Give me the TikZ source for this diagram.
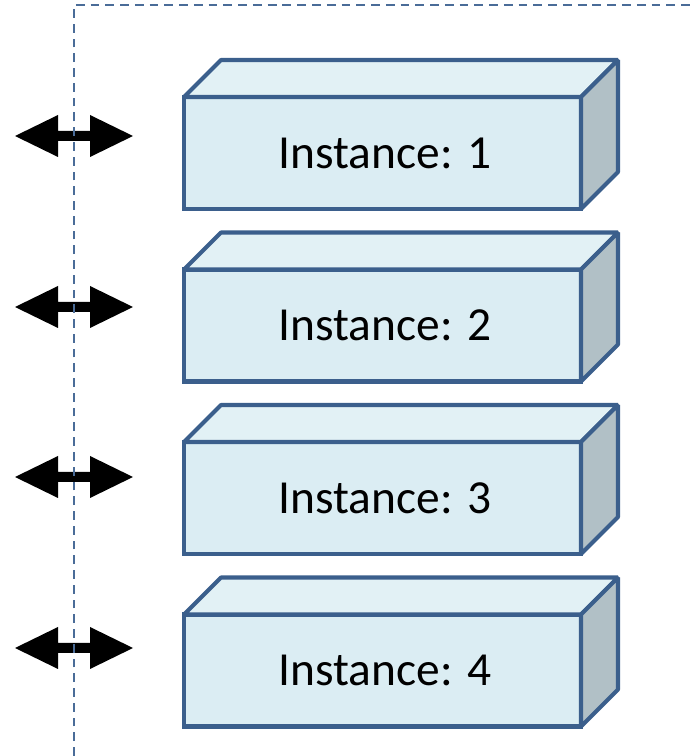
\documentclass[tikz,border=0pt]{standalone}
\usepackage{fontspec}
\setmainfont{Carlito}
\usepackage{xcolor}
\usepackage{tikz}
\usetikzlibrary{positioning,calc}

\definecolor{edgeblue}{HTML}{3B5F8C}
\definecolor{frontblue}{HTML}{DBEDF3}
\definecolor{topblue}{HTML}{E2F1F5}
\definecolor{sidegrey}{HTML}{B1C0C6}
\definecolor{dashblue}{HTML}{4A6C98}

\begin{document}
\begin{tikzpicture}[
    face/.style={draw=edgeblue, line width=2.3pt, line join=miter},
    front/.style={face, fill=frontblue, outer sep=0pt, inner sep=0pt,
        minimum width=7.94cm, minimum height=2.24cm,
        font=\fontsize{27}{32}\selectfont},
    boundary/.style={draw=dashblue, line width=1.3pt, dash pattern=on 5pt off 3.4pt}
]
    \useasboundingbox (0,0) rectangle (13.82,15.12);

    % the four instances, drawn as blocks
    \foreach \n/\y/\ay in {1/12.06/12.40, 2/8.61/8.98, 3/5.16/5.58, 4/1.71/2.16} {
        \node[front] (inst\n) at (7.65,\y) {\hspace{0.1cm}Instance: \n};
        \draw[face, fill=topblue, line join=bevel] (inst\n.north west) -- ++(0.74,0.74)
            -- ++(7.94,0) -- (inst\n.north east) -- cycle;
        \draw[face, fill=sidegrey, line join=bevel] (inst\n.north east) -- ++(0.74,0.74)
            -- ++(0,-2.24) -- (inst\n.south east) -- cycle;

        % two-way arrow across the boundary
        \coordinate (port\n) at (1.48,\ay);
        \fill ($(port\n)+(-1.18,0)$) -- ++(0.86,0.42) -- ++(0,-0.32) -- ++(0.64,0)
            -- ++(0,0.32) -- ++(0.86,-0.42) -- ++(-0.86,-0.42) -- ++(0,0.32)
            -- ++(-0.64,0) -- ++(0,-0.32) -- cycle;
    }

    % boundary
    \coordinate (corner) at (1.48,15.02);
    \draw[boundary] (1.48,0) -- (corner) -- (13.82,15.02);
\end{tikzpicture}
\end{document}
